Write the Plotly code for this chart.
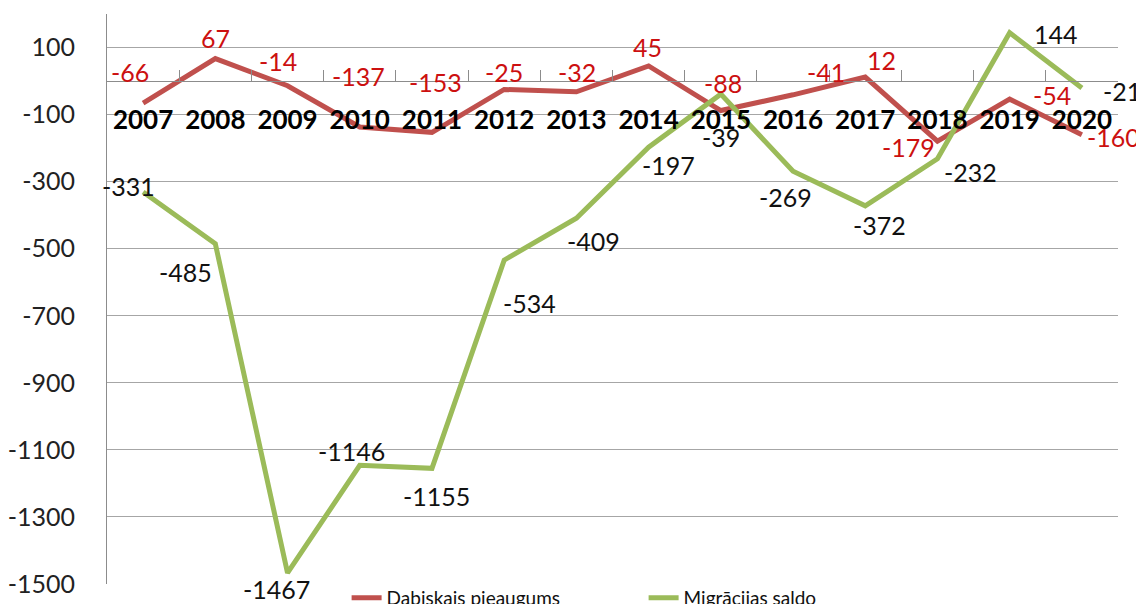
import plotly.graph_objects as go

years = ["2007", "2008", "2009", "2010", "2011", "2012", "2013", "2014",
         "2015", "2016", "2017", "2018", "2019", "2020"]
dabiskais = [-66, 67, -14, -137, -153, -25, -32, 45, -88, -41, 12, -179, -54, -160]
migracija = [-331, -485, -1467, -1146, -1155, -534, -409, -197, -39, -269, -372, -232, 144, -21]
y_ticks = [100, -100, -300, -500, -700, -900, -1100, -1300, -1500]

# label offsets in pixels (dx right, dy down) -- styling only
red_off = [(-13, -31), (0, -21), (-10, -25), (-1, -51), (4, -50), (0, -17), (1, -20),
           (-1, -19), (2, -28), (33, -23), (16, -17), (-29, 6), (42, -4), (32, 2)]
green_off = [(-15, -6), (-30, 28), (-11, 16), (-8, -14), (5, 28), (25, 43), (17, 23),
             (20, 18), (0, 43), (-8, 26), (14, 19), (33, 13), (46, 1), (40, 3)]

RED = "#C0504D"
GREEN = "#9BBB59"
FONT = "Lato"

fig = go.Figure()
fig.add_trace(go.Scatter(x=years, y=dabiskais, mode="lines", name="Dabiskais pieaugums",
                         line=dict(color=RED, width=5)))
fig.add_trace(go.Scatter(x=years, y=migracija, mode="lines", name="Migrācijas saldo",
                         line=dict(color=GREEN, width=5)))

ann = []
for i, (v, (dx, dy)) in enumerate(zip(dabiskais, red_off)):
    ann.append(dict(x=i, y=v, xref="x", yref="y", text=str(v), showarrow=False,
                    xshift=dx, yshift=-dy, font=dict(family=FONT, size=25, color="#CC1010")))
for i, (v, (dx, dy)) in enumerate(zip(migracija, green_off)):
    ann.append(dict(x=i, y=v, xref="x", yref="y", text=str(v), showarrow=False,
                    xshift=dx, yshift=-dy, font=dict(family=FONT, size=25, color="#111111")))

ymin, ymax = -1500, 200
# page body has an 8px default margin: figure is sized/offset to compensate
fig.update_layout(
    width=1136, height=596,
    margin=dict(l=99, r=26, t=6, b=20, autoexpand=False),
    paper_bgcolor="white", plot_bgcolor="white",
    font=dict(family=FONT, color="#111111"),
    annotations=ann,
    showlegend=True,
    legend=dict(orientation="h", x=0.237, xanchor="left", y=0.009, yanchor="top",
                font=dict(family=FONT, size=19, color="#111111"),
                entrywidth=252, bgcolor="rgba(0,0,0,0)"),
    xaxis=dict(type="category", anchor="free", position=(0 - ymin) / (ymax - ymin),
               showline=True, linecolor="#8c8c8c", linewidth=1,
               ticks="inside", ticklen=11, tickcolor="#8c8c8c", tickson="boundaries",
               showgrid=False, ticklabelstandoff=16,
               tickfont=dict(family=FONT, size=26, color="#000000", weight="bold"),
               range=[-0.5, 13.5]),
    yaxis=dict(range=[ymin, ymax], tickvals=y_ticks, ticktext=[str(t) for t in y_ticks],
               showline=True, linecolor="#8c8c8c", linewidth=1,
               showgrid=True, gridcolor="#a6a6a6", gridwidth=1, zeroline=False,
               ticks="", tickfont=dict(family=FONT, size=25, color="#222222"),
               ticklabelstandoff=26),
)

fig.write_html("out.html")
